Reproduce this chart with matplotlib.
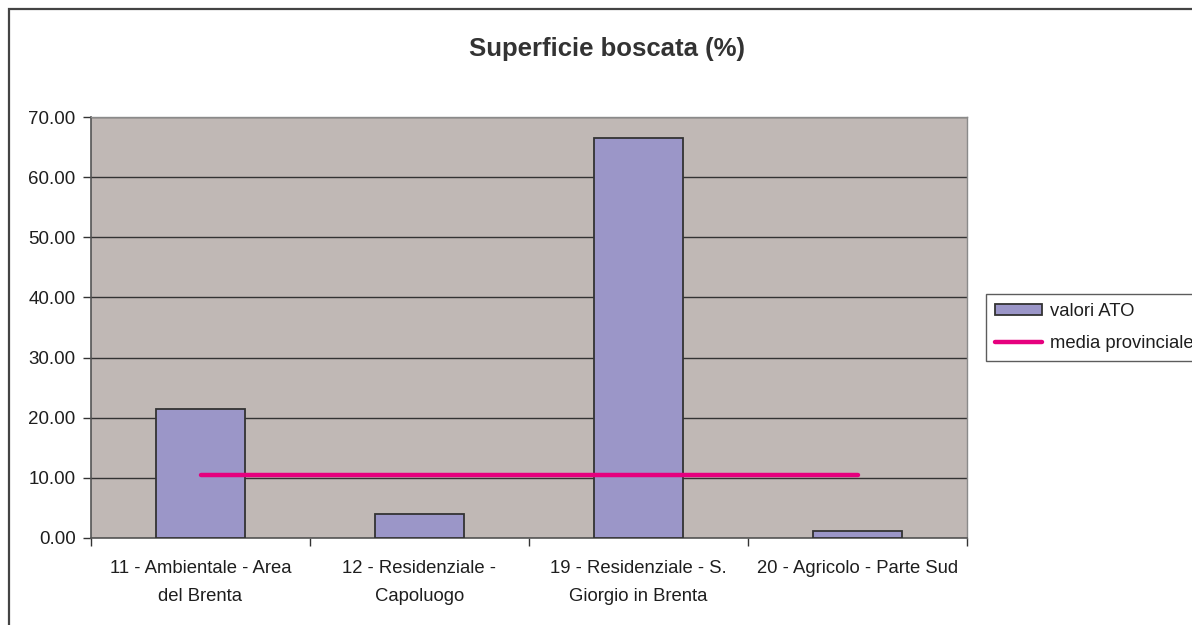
import matplotlib
matplotlib.use("Agg")
import matplotlib.pyplot as plt
import numpy as np
from matplotlib.patches import Rectangle
from matplotlib.ticker import FormatStrFormatter

categories = [
    "11 - Ambientale - Area\ndel Brenta",
    "12 - Residenziale -\nCapoluogo",
    "19 - Residenziale - S.\nGiorgio in Brenta",
    "20 - Agricolo - Parte Sud",
]
valori_ato = [21.5, 4.0, 66.5, 1.1]
media_provinciale = [10.5, 10.5, 10.5, 10.5]
y_ticks = [0, 10, 20, 30, 40, 50, 60, 70]

plt.rcParams["font.family"] = ["Liberation Sans", "DejaVu Sans"]
text_color = "#1e1e1e"

fig = plt.figure(figsize=(11.92, 6.25), dpi=100)
ax = fig.add_axes([91 / 1192, 1 - 538 / 625, (967 - 91) / 1192, (538 - 117) / 625])

# figure frame, only top and left edges fall inside the picture
fig.patches.append(Rectangle((8.5 / 1192, -0.1), 1.2, 1.1 - 8.5 / 625, transform=fig.transFigure,
                             fill=False, edgecolor="#444444", lw=1.6, zorder=0))

x = np.arange(len(categories))
ax.set_facecolor("#c0b8b5")
bars = ax.bar(x, valori_ato, width=0.41, color="#9b96c8", edgecolor="#333333", linewidth=1.3,
              label="valori ATO", zorder=3)
line, = ax.plot(x, media_provinciale, color="#e6007e", lw=3.2, solid_capstyle="round",
                label="media provinciale", zorder=4)

ax.set_xlim(-0.5, len(categories) - 0.5)
ax.set_ylim(0, 70)
ax.set_yticks(y_ticks)
ax.yaxis.set_major_formatter(FormatStrFormatter("%.2f"))
ax.yaxis.grid(True, color="#333333", lw=1.0, zorder=1)
ax.set_axisbelow(True)

ax.set_xticks(np.arange(-0.5, len(categories)))
ax.set_xticklabels([])
ax.set_xticks(x, minor=True)
ax.set_xticklabels(categories, minor=True, fontsize=13.3, color=text_color, linespacing=1.85)
ax.tick_params(axis="x", which="minor", length=0, pad=16)
ax.tick_params(axis="x", which="major", length=6, color="#333333", width=1)
ax.tick_params(axis="y", length=6, color="#333333", width=1, labelsize=13.5, labelcolor=text_color, pad=5)

for side in ["left", "bottom"]:
    ax.spines[side].set_color("#555555")
    ax.spines[side].set_linewidth(1.2)
for side in ["right", "top"]:
    ax.spines[side].set_color("#8a8a8a")
    ax.spines[side].set_linewidth(1.0)

fig.text(607 / 1192, 1 - 49 / 625, "Superficie boscata (%)", ha="center", va="center",
         fontsize=18.5, fontweight="bold", color="#333333")

leg = fig.legend([bars, line], ["valori ATO", "media provinciale"],
                 loc="upper left", bbox_to_anchor=(986 / 1192, 1 - 294 / 625),
                 fontsize=13.3, frameon=True, fancybox=False, edgecolor="#333333",
                 handlelength=2.55, handleheight=0.5, handletextpad=0.4, labelspacing=0.78,
                 borderpad=0.5, borderaxespad=0)
leg.get_frame().set_linewidth(1.0)
for t in leg.get_texts():
    t.set_color(text_color)

fig.savefig("out.png", dpi=100)
